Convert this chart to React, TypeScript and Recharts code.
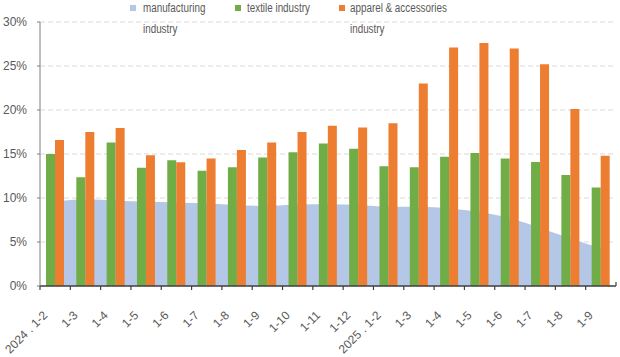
import React from "react";
import { ComposedChart, Area, Bar, XAxis, YAxis, CartesianGrid } from "recharts";

const categories = ["2024 . 1-2", "1-3", "1-4", "1-5", "1-6", "1-7", "1-8", "1-9", "1-10", "1-11", "1-12", "2025 . 1-2", "1-3", "1-4", "1-5", "1-6", "1-7", "1-8", "1-9"];
const manufacturing = [9.6, 9.85, 9.7, 9.6, 9.5, 9.4, 9.2, 9.1, 9.25, 9.3, 9.2, 9.0, 9.0, 8.8, 8.4, 7.7, 6.6, 5.4, 4.3];
const textile = [15.0, 12.35, 16.3, 13.45, 14.3, 13.1, 13.5, 14.6, 15.2, 16.2, 15.6, 13.6, 13.5, 14.7, 15.1, 14.5, 14.1, 12.6, 11.2];
const apparel = [16.6, 17.5, 17.95, 14.85, 14.05, 14.5, 15.45, 16.3, 17.5, 18.2, 18.0, 18.5, 23.0, 27.1, 27.6, 27.0, 25.2, 20.1, 14.8];
const yTicks = [0, 5, 10, 15, 20, 25, 30];

const data = categories.map((c, i) => ({
  idx: i,
  cat: c,
  manufacturing: manufacturing[i],
  textile: textile[i],
  apparel: apparel[i],
}));

const W = 620;
const H = 357;
const M = { top: 22, right: 4, left: 0, bottom: 0 };
const YW = 40;
const XH = 71;
const plotW = W - M.left - M.right - YW;
const band = plotW / categories.length;
const FONT = "'Liberation Sans', Arial, sans-serif";
const TXT = "#595959";

const XTick = (props: any) => {
  const { x, y, payload, index } = props;
  const label = categories[payload.value] ?? "";
  const left = x - band / 2;
  const right = x + band / 2;
  const x0 = x - 7;
  const y0 = y + 30;
  return (
    <g>
      <line x1={left} y1={y} x2={left} y2={y + 4} stroke="#404040" strokeWidth={1.2} />
      {index === categories.length - 1 && (
        <line x1={right} y1={y} x2={right} y2={y - 4} stroke="#404040" strokeWidth={1.2} />
      )}
      <text
        x={x0}
        y={y0}
        textAnchor="end"
        fill={TXT}
        fontSize={12}
        fontFamily={FONT}
        transform={`rotate(-45, ${x0}, ${y0})`}
      >
        {label}
      </text>
    </g>
  );
};

const legendItems = [
  { color: "#B4C7E7", marker: 130, text: 143, lines: ["manufacturing", "industry"] },
  { color: "#70AD47", marker: 235, text: 247, lines: ["textile industry"] },
  { color: "#ED7D31", marker: 339, text: 350, lines: ["apparel & accessories", "industry"] },
];

export default function App() {
  return (
    <div style={{ position: "relative", width: W, height: H, background: "#fff" }}>
      <style>{`body{margin:0}`}</style>
      <ComposedChart width={W} height={H} data={data} margin={M} barGap={0}>
        <CartesianGrid vertical={false} stroke="#d9d9d9" strokeDasharray="5 3" />
        <XAxis
          dataKey="idx"
          type="category"
          height={XH}
          interval={0}
          tickLine={false}
          tickSize={0}
          tickMargin={0}
          axisLine={{ stroke: "#404040", strokeWidth: 1.5 }}
          tick={<XTick />}
        />
        <YAxis
          width={YW}
          domain={[0, 30]}
          ticks={yTicks}
          interval={0}
          tickSize={3}
          tickMargin={10}
          tickFormatter={(v: number) => `${v}%`}
          axisLine={{ stroke: "#7f7f7f" }}
          tickLine={{ stroke: "#7f7f7f" }}
          tick={{ fill: TXT, fontSize: 12, fontFamily: FONT }}
        />
        <Area
          dataKey="manufacturing"
          type="monotone"
          stroke="none"
          fill="#B4C7E7"
          fillOpacity={1}
          isAnimationActive={false}
        />
        <Bar dataKey="textile" fill="#70AD47" barSize={9} isAnimationActive={false} />
        <Bar dataKey="apparel" fill="#ED7D31" barSize={9} isAnimationActive={false} />
      </ComposedChart>
      {legendItems.map((it) => (
        <React.Fragment key={it.text}>
          <div
            style={{
              position: "absolute",
              left: it.marker,
              top: 5,
              width: 6,
              height: 6,
              background: it.color,
            }}
          />
          {it.lines.map((ln, k) => (
            <div
              key={k}
              style={{
                position: "absolute",
                left: it.text,
                top: 1 + k * 21,
                fontFamily: FONT,
                fontSize: 12,
                lineHeight: "14px",
                color: TXT,
                whiteSpace: "nowrap",
                transform: "scaleX(0.82)",
                transformOrigin: "left top",
              }}
            >
              {ln}
            </div>
          ))}
        </React.Fragment>
      ))}
    </div>
  );
}
